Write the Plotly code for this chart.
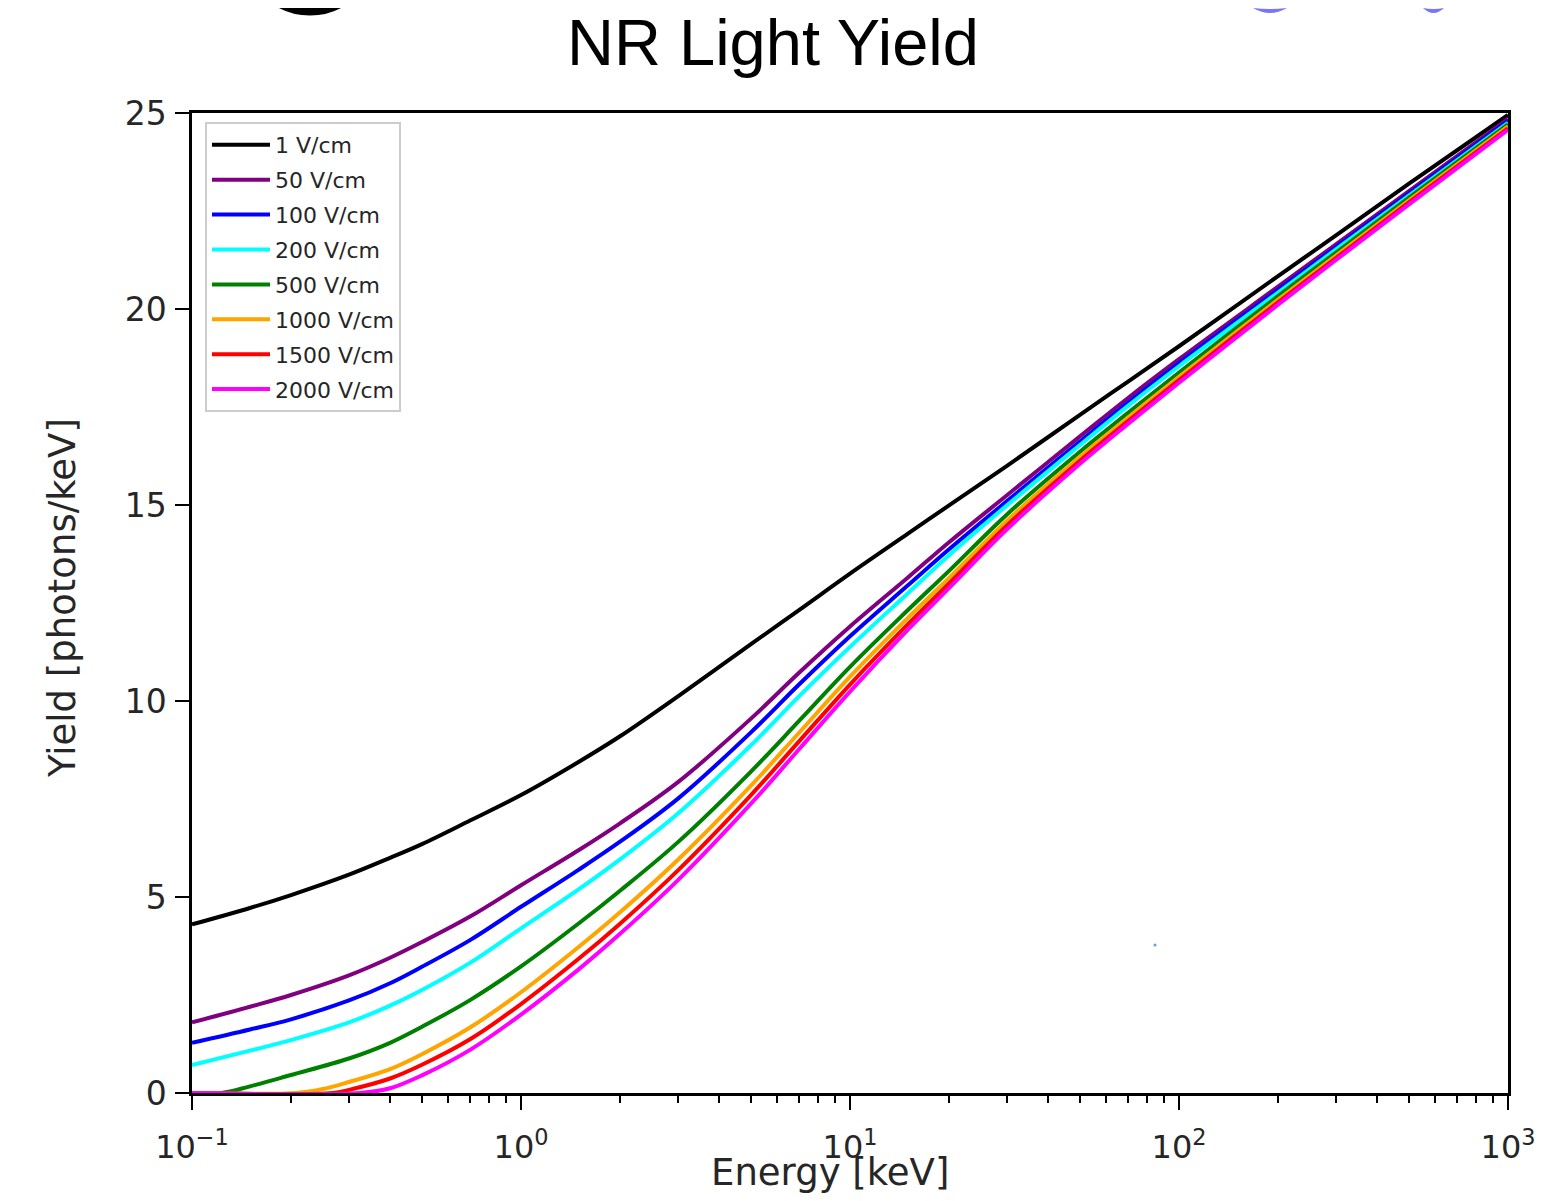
import plotly.graph_objects as go

# ---------------- data ----------------
labels = ["1 V/cm", "50 V/cm", "100 V/cm", "200 V/cm",
          "500 V/cm", "1000 V/cm", "1500 V/cm", "2000 V/cm"]
colors = ["black", "purple", "blue", "cyan", "green", "orange", "red", "magenta"]

e_full = [0.1, 0.15, 0.2, 0.3, 0.4, 0.5, 0.7, 1, 1.5, 2, 3, 5, 7, 10, 15, 20,
          30, 50, 70, 100, 200, 300, 500, 1000]

y_1 = [4.3, 4.72, 5.05, 5.57, 6.0, 6.35, 6.95, 7.6, 8.45, 9.1, 10.12, 11.45,
       12.32, 13.25, 14.27, 14.99, 16.0, 17.3, 18.15, 19.05, 20.84, 21.88, 23.2, 24.95]
y_50 = [1.8, 2.2, 2.5, 3.0, 3.45, 3.85, 4.5, 5.3, 6.2, 6.88, 7.93, 9.55,
        10.72, 11.9, 13.15, 14.05, 15.25, 16.75, 17.73, 18.72, 20.57, 21.65, 23.01, 24.85]
y_100 = [1.28, 1.62, 1.88, 2.36, 2.8, 3.22, 3.9, 4.75, 5.7, 6.41, 7.51, 9.2,
         10.42, 11.65, 12.95, 13.87, 15.1, 16.62, 17.61, 18.62, 20.49, 21.58, 22.95, 24.8]
y_200 = [0.71, 1.08, 1.35, 1.8, 2.23, 2.63, 3.32, 4.2, 5.2, 5.96, 7.13, 8.87,
         10.12, 11.38, 12.75, 13.72, 14.99, 16.53, 17.53, 18.54, 20.42, 21.52, 22.89, 24.75]

e_500 = [0.1, 0.123, 0.15, 0.2, 0.3, 0.4, 0.5, 0.7, 1, 1.5, 2, 3, 5, 7, 10, 15,
         20, 30, 50, 70, 100, 200, 300, 500, 1000]
y_500 = [0, 0, 0.17, 0.46, 0.88, 1.28, 1.69, 2.37, 3.23, 4.33, 5.16, 6.4, 8.2,
         9.49, 10.87, 12.32, 13.32, 14.76, 16.36, 17.35, 18.38, 20.33, 21.44, 22.84, 24.71]

e_1000 = [0.1, 0.208, 0.25, 0.3, 0.4, 0.5, 0.7, 1, 1.5, 2, 3, 5, 7, 10, 15, 20, 30,
          50, 70, 100, 200, 300, 500, 1000]
y_1000 = [0, 0, 0.1, 0.28, 0.61, 0.99, 1.67, 2.57, 3.73, 4.61, 5.95, 7.84, 9.19,
          10.62, 12.12, 13.14, 14.6, 16.23, 17.23, 18.27, 20.24, 21.36, 22.77, 24.66]

e_1500 = [0.1, 0.268, 0.3, 0.4, 0.5, 0.7, 1, 1.5, 2, 3, 5, 7, 10, 15, 20, 30,
          50, 70, 100, 200, 300, 500, 1000]
y_1500 = [0, 0, 0.08, 0.37, 0.72, 1.37, 2.27, 3.43, 4.32, 5.68, 7.6, 8.97, 10.42,
          11.96, 13.0, 14.48, 16.13, 17.14, 18.19, 20.17, 21.3, 22.72, 24.61]

e_2000 = [0.1, 0.324, 0.4, 0.5, 0.7, 1, 1.5, 2, 3, 5, 7, 10, 15, 20, 30,
          50, 70, 100, 200, 300, 500, 1000]
y_2000 = [0, 0, 0.12, 0.45, 1.1, 2.0, 3.16, 4.06, 5.43, 7.38, 8.77, 10.24, 11.82,
          12.88, 14.38, 16.05, 17.07, 18.12, 20.11, 21.25, 22.67, 24.57]

energies = [e_full, e_full, e_full, e_full, e_500, e_1000, e_1500, e_2000]
yields = [y_1, y_50, y_100, y_200, y_500, y_1000, y_1500, y_2000]

x_tickvals = [0.1, 1, 10, 100, 1000]
x_ticktext = ["10<sup>−1</sup>", "10<sup>0</sup>", "10<sup>1</sup>",
              "10<sup>2</sup>", "10<sup>3</sup>"]
y_tickvals = [0, 5, 10, 15, 20, 25]
minor_vals = [m * 10 ** d for d in (-1, 0, 1, 2) for m in range(2, 10)]

# ---------------- geometry (screen px of the reference) ----------------
OFF = 8                      # page body margin
W, H = 1563 - 2 * OFF, 1201 - 2 * OFF
L, R, T, B = 192, 1508, 113, 1093   # plot area on screen


def px(xs):
    return (xs - L) / (R - L)


def py(ys):
    return (B - ys) / (B - T)


fig = go.Figure()
for i, (lab, col, ex, ey) in enumerate(zip(labels, colors, energies, yields)):
    fig.add_trace(go.Scatter(
        x=ex, y=ey, mode="lines", name=lab, legendgroup=f"g{i}",
        line=dict(color=col, width=4, shape="spline", smoothing=1.0),
    ))

tick_font = dict(family="DejaVu Sans", size=33, color="#262626")

fig.update_layout(
    width=W, height=H,
    margin=dict(l=L - OFF, r=W - (R - OFF), t=T - OFF, b=H - (B - OFF)),
    paper_bgcolor="white", plot_bgcolor="white",
    title=dict(text="NR Light Yield", x=(773 - OFF) / W, xref="container",
               xanchor="center", y=1 - (42 - OFF) / H, yref="container",
               yanchor="middle",
               font=dict(family="Liberation Sans", size=65, color="black")),
    showlegend=True,
    legend=dict(x=px(205), y=py(122), xanchor="left", yanchor="top",
                bgcolor="white", bordercolor="#cccccc", borderwidth=2,
                font=dict(family="DejaVu Sans", size=22, color="#262626"),
                itemwidth=58, traceorder="grouped", tracegroupgap=3.3),
    xaxis=dict(type="log", range=[-1, 3], showgrid=False, zeroline=False,
               automargin=False,
               showline=True, linecolor="black", linewidth=2.5, mirror=True,
               ticks="outside", ticklen=14, tickwidth=2, tickcolor="black",
               tickmode="array", tickvals=x_tickvals, ticktext=x_ticktext,
               tickfont=dict(family="DejaVu Sans", size=32, color="#262626"),
               ticklabelstandoff=10,
               minor=dict(tickmode="array", tickvals=minor_vals, ticks="outside",
                          ticklen=7, tickwidth=1.5, tickcolor="black",
                          showgrid=False)),
    yaxis=dict(range=[0, 25], showgrid=False, zeroline=False,
               automargin=False,
               showline=True, linecolor="black", linewidth=2.5, mirror=True,
               ticks="outside", ticklen=14, tickwidth=2, tickcolor="black",
               tickmode="array", tickvals=y_tickvals,
               tickfont=tick_font, ticklabelstandoff=2),
)

fig.add_annotation(text="Energy [keV]", xref="paper", yref="paper",
                   x=px(830), y=py(1172), xanchor="center", yanchor="middle",
                   showarrow=False,
                   font=dict(family="DejaVu Sans", size=37, color="#262626"))
fig.add_annotation(text="Yield [photons/keV]", xref="paper", yref="paper",
                   x=px(62), y=py(598), xanchor="center", yanchor="middle",
                   textangle=-90, showarrow=False,
                   font=dict(family="DejaVu Sans", size=37, color="#262626"))

# screenshot artefacts at the top edge of the reference image
cx, cy, rr = 310, -51, 61
fig.add_shape(type="circle", xref="paper", yref="paper",
              x0=px(cx - rr), x1=px(cx + rr), y0=py(cy + rr), y1=py(cy - rr),
              line=dict(color="black", width=11), fillcolor="rgba(0,0,0,0)")


def sliver(x0, x1, ybot, ytop):
    xm = (x0 + x1) / 2
    return (f"M {px(x0)},{py(ytop)} Q {px(xm)},{py(2 * ybot - ytop)} {px(x1)},{py(ytop)} "
            f"Q {px(xm)},{py(ytop + 2)} {px(x0)},{py(ytop)} Z")


fig.add_shape(type="path", xref="paper", yref="paper", path=sliver(1253, 1287, 13, 8),
              fillcolor="#7878f6", line=dict(width=0))
fig.add_shape(type="path", xref="paper", yref="paper", path=sliver(1423, 1444, 13, 8),
              fillcolor="#7878f6", line=dict(width=0))
fig.add_shape(type="circle", xref="paper", yref="paper",
              x0=px(1153.5), x1=px(1156.5), y0=py(943.5), y1=py(946.5),
              fillcolor="#6a9ae6", line=dict(width=0))

fig.write_html("out.html")
